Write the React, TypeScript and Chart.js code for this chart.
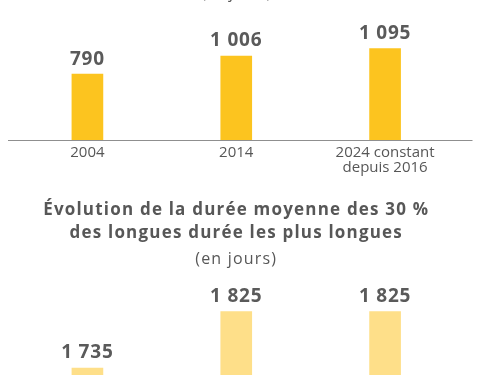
import React, { useEffect, useRef } from "react";
import { Chart, registerables } from "chart.js";

Chart.register(...registerables);

const categories: string[][] = [["2004"], ["2014"], ["2024 constant", "depuis 2016"]];
const averageDays: number[] = [790, 1006, 1095];
const longestDays: number[] = [1735, 1825, 1825];
const topSubtitle = "(en jours)";
const bottomTitle: string[] = [
  "Évolution de la durée moyenne des 30 %",
  "des longues durée les plus longues",
];
const bottomSubtitle = "(en jours)";

const FONT = '"Open Sans", "DejaVu Sans", sans-serif';
const TEXT = "#575757";

function fmt(v: number): string {
  if (v >= 1000) return `${Math.floor(v / 1000)} ${String(v % 1000).padStart(3, "0")}`;
  return String(v);
}

const valueLabels = {
  id: "valueLabels",
  afterDatasetsDraw(chart: any) {
    const ctx = chart.ctx;
    const ds = chart.data.datasets[0];
    const meta = chart.getDatasetMeta(0);
    ctx.save();
    (ctx as any).letterSpacing = "0.8px";
    ctx.font = `bold 19px ${FONT}`;
    ctx.fillStyle = "#5a5a5a";
    ctx.textAlign = "center";
    ctx.textBaseline = "middle";
    meta.data.forEach((bar: any, i: number) => {
      ctx.fillText(fmt(ds.data[i] as number), bar.x, bar.y - 15);
    });
    ctx.restore();
  },
};

const tracking = {
  id: "tracking",
  beforeDraw(chart: any, _args: any, opts: any) {
    (chart.ctx as any).letterSpacing = `${opts.px || 0}px`;
  },
  afterDraw(chart: any) {
    (chart.ctx as any).letterSpacing = "0px";
  },
};

const baseLine = {
  id: "baseLine",
  afterDatasetsDraw(chart: any) {
    const { ctx, chartArea } = chart;
    const y = Math.round(chart.scales.y.getPixelForValue(0)) + 0.5;
    ctx.save();
    ctx.strokeStyle = "#8f8f8f";
    ctx.lineWidth = 1;
    ctx.beginPath();
    ctx.moveTo(chartArea.left - 5, y);
    ctx.lineTo(chartArea.right + 13, y);
    ctx.stroke();
    ctx.restore();
  },
};

function TopChart() {
  const ref = useRef<HTMLCanvasElement>(null);
  useEffect(() => {
    const chart = new Chart(ref.current!, {
      type: "bar",
      data: {
        labels: categories as any,
        datasets: [
          {
            data: averageDays,
            backgroundColor: "#FCC41F",
            barThickness: 31,
          },
        ],
      },
      options: {
        animation: false,
        responsive: false,
        events: [],
        layout: { padding: { left: 13, right: 40.5, top: 0, bottom: 0 } },
        plugins: {
          legend: { display: false },
          tooltip: { enabled: false },
          tracking: { px: 0 },
          title: {
            display: true,
            text: topSubtitle,
            fullSize: false,
            color: TEXT,
            font: { family: FONT, size: 16, weight: "normal" },
            padding: { top: 4, bottom: 10 },
          },
        } as any,
        scales: {
          x: {
            grid: { display: false, drawTicks: false },
            border: { display: false },
            ticks: {
              color: TEXT,
              padding: 5,
              font: { family: FONT, size: 15, lineHeight: 1 },
              maxRotation: 0,
              autoSkip: false,
            },
          },
          y: { display: false, min: 0, max: 1520 },
        },
      },
      plugins: [tracking, baseLine, valueLabels],
    });
    return () => chart.destroy();
  }, []);
  return (
    <canvas
      ref={ref}
      width={500}
      height={200}
      style={{ position: "absolute", left: 0, top: -20, width: 500, height: 200 }}
    />
  );
}

function BottomChart() {
  const ref = useRef<HTMLCanvasElement>(null);
  useEffect(() => {
    const chart = new Chart(ref.current!, {
      type: "bar",
      data: {
        labels: categories as any,
        datasets: [
          {
            data: longestDays,
            backgroundColor: "#FEDF89",
            barThickness: 31,
          },
        ],
      },
      options: {
        animation: false,
        responsive: false,
        events: [],
        layout: { padding: { left: 13, right: 40.5, top: 0, bottom: 0 } },
        plugins: {
          legend: { display: false },
          tooltip: { enabled: false },
          tracking: { px: 1.2 },
          title: {
            display: true,
            text: bottomTitle,
            fullSize: false,
            color: TEXT,
            font: { family: FONT, size: 17, weight: "bold", lineHeight: 1.35 },
            padding: { top: 13.5, bottom: 0 },
          },
          subtitle: {
            display: true,
            text: bottomSubtitle,
            fullSize: false,
            color: TEXT,
            font: { family: FONT, size: 16, weight: "normal" },
            padding: { top: 5, bottom: 9 },
          },
        } as any,
        scales: {
          x: { display: false },
          y: { display: false, min: 1724, max: 1879 },
        },
      },
      plugins: [tracking, valueLabels],
    });
    return () => chart.destroy();
  }, []);
  return (
    <canvas
      ref={ref}
      width={500}
      height={190}
      style={{ position: "absolute", left: 0, top: 185, width: 500, height: 190 }}
    />
  );
}

export default function App() {
  return (
    <div
      style={{
        position: "fixed",
        left: 0,
        top: 0,
        width: 500,
        height: 375,
        overflow: "hidden",
        background: "#ffffff",
      }}
    >
      <TopChart />
      <BottomChart />
    </div>
  );
}
